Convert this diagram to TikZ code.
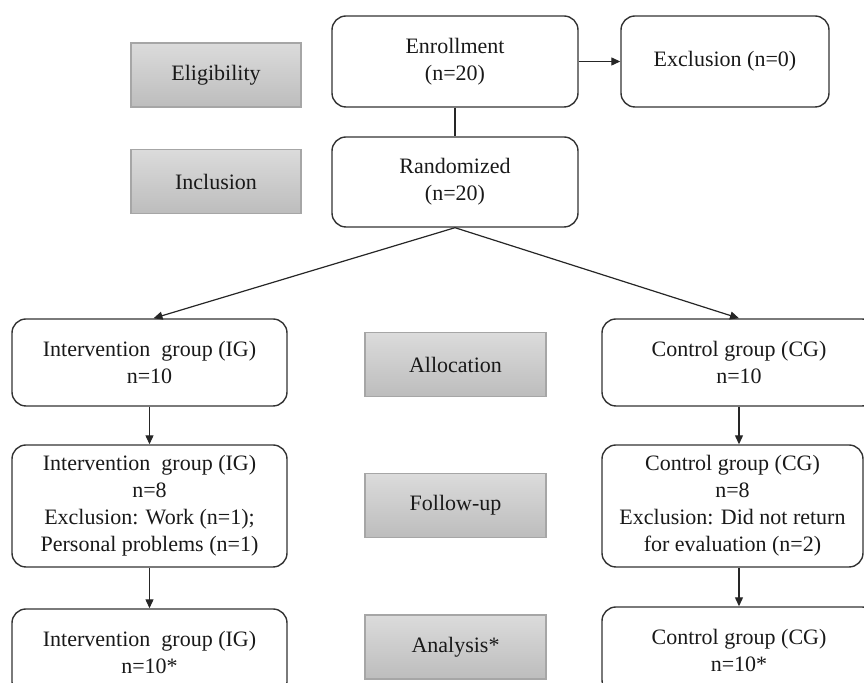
\documentclass[tikz,border=0pt]{standalone}
\usepackage{fontspec}
\setmainfont{Liberation Serif}
\usetikzlibrary{arrows.meta}

\begin{document}
\begin{tikzpicture}
	[
		x=0.5pt, y=-0.5pt,
		every node/.style={font=\fontsize{11}{13.5}\selectfont, text=black!90, inner sep=0pt},
		flowbox/.style={draw=black!80, line width=0.7pt, rounded corners=7pt, fill=white, align=center},
		stagebox/.style={draw=black!35, line width=0.6pt, top color=black!14, bottom color=black!26, minimum width=85pt, minimum height=32pt},
		link/.style={draw=black!85, line width=0.6pt, -{Triangle[length=4.5pt,width=4pt]}}
	]
	\useasboundingbox (0,0) rectangle (864,683);
	\clip (0,0) rectangle (864,683);

	% stages
	\node(elig) [stagebox] at (216,75) {Eligibility};
	\node(incl) [stagebox] at (216,181.5) {Inclusion};
	\node(alloc) [stagebox, minimum width=90.5pt] at (455.5,364.5) {Allocation};
	\node(follow) [stagebox, minimum width=90.5pt] at (455.5,505.5) {Follow-up};
	\node(anal) [stagebox, minimum width=90.5pt] at (455.5,647) {Analysis*};

	% top boxes
	\node(enroll) [flowbox, minimum width=123pt, minimum height=45.5pt] at (455,61.5) {Enrollment\\(n=20)};
	\node(excl) [flowbox, minimum width=104pt, minimum height=45.5pt] at (725,61.5) {Exclusion (n=0)};
	\node(rand) [flowbox, minimum width=123pt, minimum height=45pt] at (455,182) {Randomized\\(n=20)};

	% groups
	\node(ig1) [flowbox, minimum width=137.5pt, minimum height=43.5pt] at (149.5,362.5) {Intervention~~group (IG)\\n=10};
	\node(cg1) [flowbox, minimum width=137pt, minimum height=43.5pt] at (739,362.5) {Control group (CG)\\n=10};
	\node(ig2) [flowbox, minimum width=137.5pt, minimum height=61pt] at (149.5,506) {Intervention~~group (IG)\\n=8\\Exclusion: Work (n=1);\\Personal problems (n=1)};
	\node(cg2) [flowbox, minimum width=130.5pt, minimum height=61pt] at (732.5,506) {Control group (CG)\\n=8\\Exclusion: Did not return\\for evaluation (n=2)};
	\node(ig3) [flowbox, minimum width=137.5pt, minimum height=43.5pt] at (149.5,652.5) {Intervention~~group (IG)\\n=10*};
	\node(cg3) [flowbox, minimum width=137pt, minimum height=43.5pt] at (739,650.5) {Control group (CG)\\n=10*};

	\draw[link] (enroll) -- (excl);
	\draw[draw=black!85, line width=0.6pt] (enroll) -- (rand);
	\draw[link] (rand.south) -- ([xshift=2pt]ig1.north);
	\draw[link] (rand.south) -- (cg1.north);
	\draw[link] (ig1) -- (ig2);
	\draw[link] (ig2) -- (ig3);
	\draw[link] (cg1.south) -- (cg1.south |- cg2.north);
	\draw[link] (cg2.south -| cg1.south) -- (cg3.north);
\end{tikzpicture}
\end{document}
